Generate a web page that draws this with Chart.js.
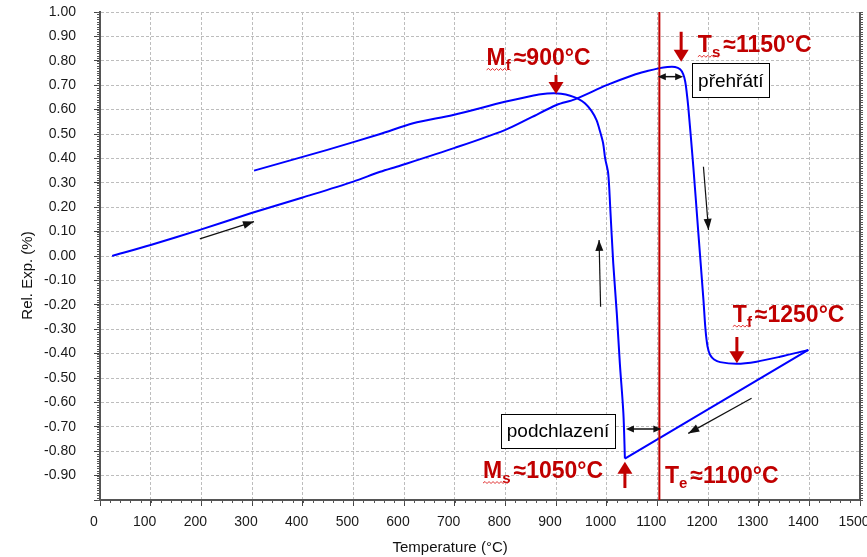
<!DOCTYPE html>
<html>
<head>
<meta charset="utf-8">
<script src="https://cdn.jsdelivr.net/npm/chart.js@4.4.0/dist/chart.umd.min.js"></script>
<style>
html, body { margin: 0; padding: 0; background: #fff; }
</style>
</head>
<body>
<canvas id="myChart" width="867" height="557"></canvas>
<script>
// heating run: temperature (°C) and rel. expansion (%)
const heatT = [24, 100, 197, 299, 400, 500, 553, 592, 700, 799, 850, 901, 937, 1000, 1053, 1080, 1102, 1120, 1135, 1145, 1151, 1155, 1158, 1161, 1171, 1181, 1191, 1195, 1199, 1204, 1212, 1224, 1257, 1296, 1342, 1398]
const heatV = [0.00, 0.045, 0.107, 0.176, 0.24, 0.305, 0.345, 0.37, 0.443, 0.516, 0.567, 0.619, 0.642, 0.70, 0.742, 0.758, 0.769, 0.775, 0.775, 0.765, 0.745, 0.715, 0.67, 0.612, 0.366, 0.093, -0.18, -0.30, -0.37, -0.405, -0.424, -0.435, -0.442, -0.433, -0.413, -0.385]

// cooling run (first segment is the straight part 1398 -> 1036)
const coolT = [1398, 1036, 1033, 1026, 1020, 1013, 1007, 1003, 997, 993, 987, 980, 970, 957, 943, 928, 910, 895, 870, 849, 799, 697, 618, 553, 447, 304]
const coolV = [-0.385, -0.83, -0.645, -0.44, -0.235, -0.03, 0.20, 0.339, 0.40, 0.462, 0.51, 0.557, 0.595, 0.626, 0.645, 0.657, 0.665, 0.667, 0.663, 0.655, 0.632, 0.578, 0.544, 0.50, 0.434, 0.35]

// equilibrium temperature Te (red line)
const eqT = 1104

const xTitle = 'Temperature (°C)'
const yTitle = 'Rel. Exp. (%)'

// red labels: main letter, subscript, rest, anchor (data units)
const redLabels = [
  { main: 'M', sub: 'f', rest: '≈900°C', t: 763, v: 0.783, wavy: true },
  { main: 'T', sub: 's', rest: '≈1150°C', t: 1180, v: 0.837, wavy: true },
  { main: 'T', sub: 'f', rest: '≈1250°C', t: 1249, v: -0.269, wavy: true },
  { main: 'M', sub: 's', rest: '≈1050°C', t: 756, v: -0.910, wavy: true },
  { main: 'T', sub: 'e', rest: '≈1100°C', t: 1115, v: -0.930, wavy: false }
]
// red arrows (tail -> tip)
const redArrows = [
  { t: 900, v1: 0.742, v2: 0.664 },
  { t: 1147, v1: 0.919, v2: 0.796 },
  { t: 1257, v1: -0.332, v2: -0.44 },
  { t: 1036, v1: -0.951, v2: -0.843 }
]
// thin black arrows showing direction
const dirArrows = [
  { t1: 197, v1: 0.070, t2: 304, v2: 0.141 },
  { t1: 988, v1: -0.208, t2: 985, v2: 0.066 },
  { t1: 1191, v1: 0.366, t2: 1201, v2: 0.107 },
  { t1: 1286, v1: -0.583, t2: 1161, v2: -0.727 }
]
const dblArrows = [
  { t1: 1101, t2: 1151, v: 0.735 },
  { t1: 1038, t2: 1108, v: -0.709 }
]
const boxes = [
  { text: 'přehřátí', t: 1245, v: 0.72 },
  { text: 'podchlazení', t: 904, v: -0.718 }
]

const FONT = '"Liberation Sans", Arial, sans-serif'
const RED = '#c00000'

function pts(ts, vs) {
  return ts.map((t, i) => ({ x: t, y: vs[i] }))
}

function arrowHead(ctx, x1, y1, x2, y2, len, wid) {
  const ang = Math.atan2(y2 - y1, x2 - x1)
  ctx.beginPath()
  ctx.moveTo(x2, y2)
  ctx.lineTo(x2 - len * Math.cos(ang) + wid / 2 * Math.sin(ang), y2 - len * Math.sin(ang) - wid / 2 * Math.cos(ang))
  ctx.lineTo(x2 - len * Math.cos(ang) - wid / 2 * Math.sin(ang), y2 - len * Math.sin(ang) + wid / 2 * Math.cos(ang))
  ctx.closePath()
  ctx.fill()
}

function wavy(ctx, x1, x2, y) {
  ctx.beginPath()
  let up = true
  ctx.moveTo(x1, y)
  for (let x = x1 + 2; x <= x2; x += 2) {
    ctx.lineTo(x, up ? y - 1.5 : y + 0.5)
    up = !up
  }
  ctx.stroke()
}

const notes = {
  id: 'notes',
  afterDraw(chart) {
    const ctx = chart.ctx
    const xs = chart.scales.x, ys = chart.scales.y, a = chart.chartArea
    const px = t => xs.getPixelForValue(t)
    const py = v => ys.getPixelForValue(v)
    ctx.save()

    // frame on the right + minor ticks
    ctx.strokeStyle = '#555'
    ctx.lineWidth = 2
    ctx.beginPath()
    ctx.moveTo(a.right, a.top)
    ctx.lineTo(a.right, a.bottom)
    ctx.stroke()
    ctx.lineWidth = 1
    ctx.beginPath()
    for (let i = -100; i <= 100; i++) {
      const y = Math.round(py(i / 100)) + 0.5
      ctx.moveTo(a.left - 3, y); ctx.lineTo(a.left, y)
      ctx.moveTo(a.right, y); ctx.lineTo(a.right + 3, y)
    }
    for (let t = 0; t <= 1500; t += 20) {
      const x = Math.round(px(t)) + 0.5
      ctx.moveTo(x, a.bottom); ctx.lineTo(x, a.bottom + 3)
    }
    ctx.stroke()

    // axis titles
    ctx.fillStyle = '#111'
    ctx.font = '15px ' + FONT
    ctx.textAlign = 'center'
    ctx.textBaseline = 'top'
    ctx.fillText(xTitle, px(691), 540)
    ctx.save()
    ctx.translate(a.left - 72, py(-0.08))
    ctx.rotate(-Math.PI / 2)
    ctx.textBaseline = 'middle'
    ctx.fillText(yTitle, 0, 0)
    ctx.restore()

    // direction arrows
    ctx.strokeStyle = '#111'
    ctx.fillStyle = '#111'
    ctx.lineWidth = 1.2
    dirArrows.forEach(d => {
      const x1 = px(d.t1), y1 = py(d.v1), x2 = px(d.t2), y2 = py(d.v2)
      ctx.beginPath(); ctx.moveTo(x1, y1); ctx.lineTo(x2, y2); ctx.stroke()
      arrowHead(ctx, x1, y1, x2, y2, 11, 8)
    })
    ctx.lineWidth = 1.5
    dblArrows.forEach(d => {
      const x1 = px(d.t1), x2 = px(d.t2), y = py(d.v)
      ctx.beginPath(); ctx.moveTo(x1 + 3, y); ctx.lineTo(x2 - 3, y); ctx.stroke()
      arrowHead(ctx, x1, y, x2, y, 8, 7)
      arrowHead(ctx, x2, y, x1, y, 8, 7)
    })

    // boxes
    ctx.font = '19px ' + FONT
    ctx.textAlign = 'center'
    ctx.textBaseline = 'middle'
    boxes.forEach(b => {
      const w = ctx.measureText(b.text).width + 12, h = 34
      const x = px(b.t), y = py(b.v)
      ctx.fillStyle = '#fff'
      ctx.fillRect(x - w / 2, y - h / 2, w, h)
      ctx.strokeStyle = '#000'
      ctx.lineWidth = 1
      ctx.strokeRect(Math.round(x - w / 2) + 0.5, Math.round(y - h / 2) + 0.5, Math.round(w), h)
      ctx.fillStyle = '#000'
      ctx.fillText(b.text, x, y + 1)
    })

    // red arrows
    ctx.strokeStyle = RED
    ctx.fillStyle = RED
    ctx.lineWidth = 3
    redArrows.forEach(r => {
      const x = px(r.t), y1 = py(r.v1), y2 = py(r.v2)
      const dir = Math.sign(y2 - y1)
      ctx.beginPath(); ctx.moveTo(x, y1); ctx.lineTo(x, y2 - dir * 6); ctx.stroke()
      arrowHead(ctx, x, y1, x, y2, 12, 15)
    })

    // red labels
    ctx.textAlign = 'left'
    ctx.textBaseline = 'alphabetic'
    redLabels.forEach(l => {
      let x = px(l.t)
      const y = py(l.v)
      const x0 = x
      ctx.fillStyle = RED
      ctx.font = 'bold 23px ' + FONT
      ctx.fillText(l.main, x, y)
      x += ctx.measureText(l.main).width
      ctx.font = 'bold 15px ' + FONT
      ctx.fillText(l.sub, x, y + 5)
      x += ctx.measureText(l.sub).width
      if (l.wavy) {
        ctx.strokeStyle = '#e03030'
        ctx.lineWidth = 1
        wavy(ctx, x0, x, y + 5)
      }
      x += 3
      ctx.font = 'bold 23px ' + FONT
      ctx.fillText(l.rest, x, y)
    })

    ctx.restore()
  }
}

const coolPts = pts(coolT, coolV)
const blue = { showLine: true, borderColor: '#0000ff', borderWidth: 2, pointRadius: 0 }

const ctx = document.getElementById('myChart')
new Chart(ctx, {
  type: 'scatter',
  data: {
    datasets: [
      { label: 'Te', data: [{ x: eqT, y: -1 }, { x: eqT, y: 1 }], showLine: true, borderColor: RED, borderWidth: 2, pointRadius: 0 },
      { label: 'heating', data: pts(heatT, heatV), tension: 0.3, ...blue },
      { label: 'cooling (linear part)', data: coolPts.slice(0, 2), tension: 0, ...blue },
      { label: 'cooling', data: coolPts.slice(1), tension: 0.3, ...blue }
    ]
  },
  options: {
    responsive: false,
    animation: false,
    layout: { padding: { top: 12, right: 7, left: 0, bottom: 0 } },
    plugins: { legend: { display: false }, tooltip: { enabled: false } },
    scales: {
      x: {
        type: 'linear',
        min: 0,
        max: 1500,
        afterFit: s => { s.height = 57; s.paddingLeft = 0; s.paddingRight = 0 },
        ticks: {
          stepSize: 100,
          autoSkip: false,
          maxRotation: 0,
          padding: 8,
          labelOffset: -6,
          color: '#1a1a1a',
          font: { family: FONT, size: 14 },
          callback: v => String(v)
        },
        grid: { color: '#bdbdbd', lineWidth: 1, tickColor: '#444', tickLength: 6 },
        border: { display: true, color: '#555', width: 2, dash: [3, 2] }
      },
      y: {
        min: -1,
        max: 1,
        afterFit: s => { s.width = 100; s.paddingTop = 0; s.paddingBottom = 0 },
        ticks: {
          stepSize: 0.1,
          autoSkip: false,
          padding: 18,
          color: '#1a1a1a',
          font: { family: FONT, size: 14 },
          callback: v => {
            const r = Math.round(v * 100) / 100
            if (r <= -0.995) return ''
            return (r === 0 ? 0 : r).toFixed(2)
          }
        },
        grid: { color: '#bdbdbd', lineWidth: 1, tickColor: '#444', tickLength: 6 },
        border: { display: true, color: '#555', width: 2, dash: [3, 2] }
      }
    }
  },
  plugins: [notes]
})
</script>
</body>
</html>
